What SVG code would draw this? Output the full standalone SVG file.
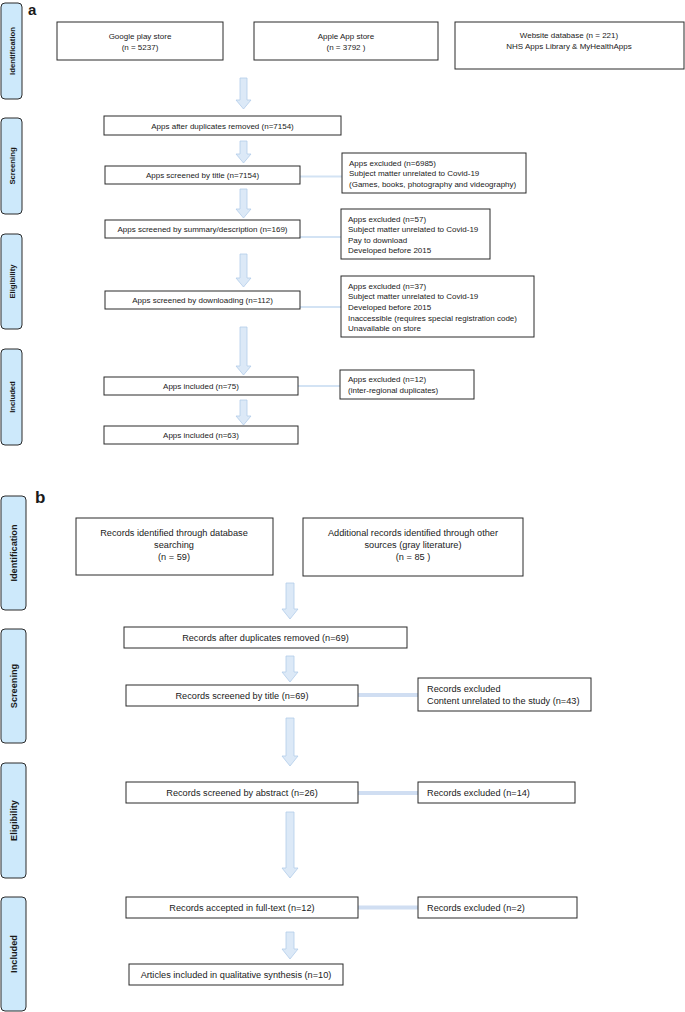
<svg xmlns="http://www.w3.org/2000/svg" width="685" height="1012" viewBox="0 0 685 1012">
<style>
.bg{fill:#fff}
.box{fill:#fff;stroke:#2a2a2a;stroke-width:1}
.side{fill:#cde9fb;stroke:#2a2a2a;stroke-width:1}
.arr{fill:#dce9f7;stroke:#b3cdea;stroke-width:0.8}
.ln{stroke:#d3e3f4;stroke-width:2;fill:none}
.lnb{stroke:#d0def2;stroke-width:4;fill:none}
text{font-family:"Liberation Sans",Arial,sans-serif;fill:#1a1a1a}
.ta{font-size:8px}
.tb{font-size:9.2px}
.c{text-anchor:middle}
.sa{font-size:7.7px;font-weight:bold;text-anchor:middle}
.sb{font-size:9.2px;font-weight:bold;text-anchor:middle}
.lab{font-size:17px;font-weight:bold}
.laba{font-size:15px;font-weight:bold}
</style>
<rect class="bg" x="0" y="0" width="685" height="1012"/>

<!-- Panel a -->
<text class="laba" x="28" y="14.5">a</text>
<g id="a-side-identification"><rect class="side" x="1" y="3" width="21" height="96" rx="4"/><text class="sa" transform="translate(14.5,51) rotate(-90)">Identification</text></g>
<g id="a-side-screening"><rect class="side" x="1" y="118" width="21" height="96" rx="4"/><text class="sa" transform="translate(14.5,166) rotate(-90)">Screening</text></g>
<g id="a-side-eligibility"><rect class="side" x="1" y="234" width="21" height="95" rx="4"/><text class="sa" transform="translate(14.5,281.5) rotate(-90)">Eligibility</text></g>
<g id="a-side-included"><rect class="side" x="1" y="349" width="21" height="96" rx="4"/><text class="sa" transform="translate(14.5,397) rotate(-90)">Included</text></g>

<g id="a-connectors">
<path class="arr" d="M240,78 H247 V100 H251 L243.5,109 L236,100 H240 Z"/>
<path class="arr" d="M240,141 H247 V154 H251 L243.5,163 L236,154 H240 Z"/>
<path class="arr" d="M240,189 H247 V209 H251 L243.5,218 L236,209 H240 Z"/>
<path class="arr" d="M240,254 H247 V278 H251 L243.5,287 L236,278 H240 Z"/>
<path class="arr" d="M240,327 H247 V366 H251 L243.5,375 L236,366 H240 Z"/>
<path class="arr" d="M240,400 H247 V416 H251 L243.5,425 L236,416 H240 Z"/>
<line class="ln" x1="300" y1="176.5" x2="342" y2="176.5"/>
<line class="ln" x1="300" y1="237" x2="341" y2="237"/>
<line class="ln" x1="300" y1="307" x2="341" y2="307"/>
<line class="ln" x1="298" y1="386" x2="340" y2="386"/>
</g>

<g id="a-google"><rect class="box" x="57" y="22" width="166" height="38"/><text class="ta c" x="140" y="38.5">Google play store</text><text class="ta c" x="140" y="49.5">(n = 5237)</text></g>
<g id="a-apple"><rect class="box" x="254" y="22" width="184" height="38"/><text class="ta c" x="346" y="38.5">Apple App store</text><text class="ta c" x="346" y="49.5">(n = 3792 )</text></g>
<g id="a-website"><rect class="box" x="455" y="22" width="229" height="47"/><text class="ta c" x="569" y="37.5">Website database  (n = 221)</text><text class="ta c" x="569" y="48.5">NHS Apps Library &amp; MyHealthApps</text></g>
<g id="a-dup"><rect class="box" x="104" y="116" width="237" height="19"/><text class="ta c" x="222.5" y="128.5">Apps after duplicates removed (n=7154)</text></g>
<g id="a-title"><rect class="box" x="105" y="166" width="195" height="18"/><text class="ta c" x="202.5" y="178">Apps screened by title (n=7154)</text></g>
<g id="a-ex1"><rect class="box" x="342" y="153" width="184" height="40"/><text class="ta" x="349" y="165.5">Apps excluded  (n=6985)</text><text class="ta" x="349" y="176">Subject matter unrelated to Covid-19</text><text class="ta" x="349" y="186.5">(Games, books, photography and videography)</text></g>
<g id="a-summary"><rect class="box" x="105" y="220" width="195" height="18"/><text class="ta c" x="202.5" y="232">Apps screened by summary/description (n=169)</text></g>
<g id="a-ex2"><rect class="box" x="341" y="209" width="149" height="50"/><text class="ta" x="348" y="221.5">Apps excluded  (n=57)</text><text class="ta" x="348" y="232">Subject matter unrelated to Covid-19</text><text class="ta" x="348" y="242.5">Pay to download</text><text class="ta" x="348" y="253">Developed before 2015</text></g>
<g id="a-download"><rect class="box" x="105" y="291" width="195" height="18"/><text class="ta c" x="202.5" y="302.5">Apps screened by downloading (n=112)</text></g>
<g id="a-ex3"><rect class="box" x="341" y="276" width="193" height="61"/><text class="ta" x="348" y="288.5">Apps excluded (n=37)</text><text class="ta" x="348" y="299">Subject matter unrelated to Covid-19</text><text class="ta" x="348" y="309.5">Developed before 2015</text><text class="ta" x="348" y="320.5">Inaccessible (requires special registration code)</text><text class="ta" x="348" y="331">Unavailable on store</text></g>
<g id="a-included75"><rect class="box" x="104" y="377" width="194" height="18"/><text class="ta c" x="201" y="389">Apps included (n=75)</text></g>
<g id="a-ex4"><rect class="box" x="340" y="370" width="134" height="29"/><text class="ta" x="348" y="382">Apps excluded (n=12)</text><text class="ta" x="348" y="393">(inter-regional duplicates)</text></g>
<g id="a-included63"><rect class="box" x="104" y="426" width="194" height="18"/><text class="ta c" x="201" y="438">Apps included (n=63)</text></g>

<!-- Panel b -->
<text class="lab" x="35" y="503">b</text>
<g id="b-side-identification"><rect class="side" x="1" y="496" width="25" height="114" rx="4"/><text class="sb" transform="translate(16.5,553) rotate(-90)">Identification</text></g>
<g id="b-side-screening"><rect class="side" x="1" y="629" width="25" height="114" rx="4"/><text class="sb" transform="translate(16.5,686) rotate(-90)">Screening</text></g>
<g id="b-side-eligibility"><rect class="side" x="1" y="763" width="25" height="115" rx="4"/><text class="sb" transform="translate(16.5,820.5) rotate(-90)">Eligibility</text></g>
<g id="b-side-included"><rect class="side" x="1" y="897" width="25" height="114" rx="4"/><text class="sb" transform="translate(16.5,954) rotate(-90)">Included</text></g>

<g id="b-connectors">
<path class="arr" d="M286,583 H294 V609 H298 L290,619 L282,609 H286 Z"/>
<path class="arr" d="M286,656 H294 V672 H298 L290,682 L282,672 H286 Z"/>
<path class="arr" d="M286,718 H294 V756 H298 L290,766 L282,756 H286 Z"/>
<path class="arr" d="M286,812 H294 V868 H298 L290,878 L282,868 H286 Z"/>
<path class="arr" d="M286,932 H294 V949 H298 L290,959 L282,949 H286 Z"/>
<line class="lnb" x1="358" y1="695" x2="418" y2="695"/>
<line class="lnb" x1="358" y1="793" x2="418" y2="793"/>
<line class="lnb" x1="358" y1="907.5" x2="418" y2="907.5"/>
</g>

<g id="b-database"><rect class="box" x="76" y="518" width="197" height="57"/><text class="tb c" x="174" y="536">Records identified through database</text><text class="tb c" x="174" y="548">searching</text><text class="tb c" x="174" y="560">(n = 59)</text></g>
<g id="b-other"><rect class="box" x="303" y="518" width="220" height="58"/><text class="tb c" x="413" y="536">Additional records identified through other</text><text class="tb c" x="413" y="548">sources (gray literature)</text><text class="tb c" x="413" y="560">(n = 85 )</text></g>
<g id="b-dup"><rect class="box" x="124" y="627" width="283" height="21"/><text class="tb c" x="265.5" y="641">Records after duplicates removed (n=69)</text></g>
<g id="b-title"><rect class="box" x="126" y="685" width="232" height="21"/><text class="tb c" x="242" y="698.5">Records screened by title (n=69)</text></g>
<g id="b-ex1"><rect class="box" x="418" y="678" width="173" height="33"/><text class="tb" x="427" y="692">Records excluded</text><text class="tb" x="427" y="704">Content unrelated to the study (n=43)</text></g>
<g id="b-abstract"><rect class="box" x="126" y="782" width="232" height="21"/><text class="tb c" x="242" y="795.5">Records screened by abstract (n=26)</text></g>
<g id="b-ex2"><rect class="box" x="418" y="782" width="157" height="21"/><text class="tb" x="427" y="795.5">Records excluded (n=14)</text></g>
<g id="b-fulltext"><rect class="box" x="126" y="897" width="232" height="21"/><text class="tb c" x="242" y="910.5">Records accepted in full-text (n=12)</text></g>
<g id="b-ex3"><rect class="box" x="418" y="897" width="159" height="21"/><text class="tb" x="427" y="910.5">Records excluded (n=2)</text></g>
<g id="b-articles"><rect class="box" x="129" y="964" width="214" height="21"/><text class="tb c" x="236" y="977.5">Articles included in qualitative synthesis (n=10)</text></g>
</svg>
